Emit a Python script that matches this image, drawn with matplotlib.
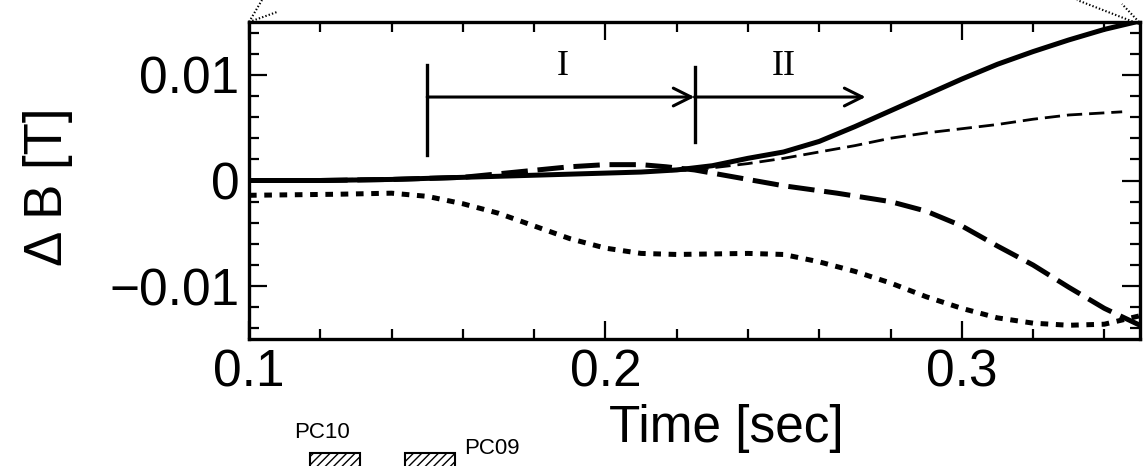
import matplotlib
matplotlib.use("Agg")
import matplotlib.pyplot as plt
from matplotlib.ticker import MultipleLocator
from matplotlib.patches import Rectangle
from matplotlib.lines import Line2D

plt.rcParams['font.family'] = ['Liberation Sans', 'DejaVu Sans']
plt.rcParams['lines.scale_dashes'] = False

# ---------------- data ----------------
t_solid = [0.10, 0.12, 0.14, 0.16, 0.18, 0.20, 0.21, 0.22, 0.23, 0.24, 0.25,
           0.26, 0.27, 0.28, 0.29, 0.30, 0.31, 0.32, 0.33, 0.34, 0.35]
b_solid = [0.0000, 0.0000, 0.0001, 0.0003, 0.0005, 0.0007, 0.0008, 0.0010,
           0.0014, 0.0021, 0.0027, 0.0037, 0.0051, 0.0066, 0.0081, 0.0096,
           0.0110, 0.0122, 0.0133, 0.0143, 0.0151]

t_long = [0.10, 0.12, 0.14, 0.16, 0.175, 0.19, 0.20, 0.21, 0.217, 0.225,
          0.235, 0.25, 0.265, 0.28, 0.29, 0.30, 0.31, 0.32, 0.33, 0.34, 0.35]
b_long = [0.0000, 0.0000, 0.0001, 0.0003, 0.0008, 0.0013, 0.0015, 0.0015,
          0.0013, 0.0010, 0.0004, -0.0005, -0.0012, -0.0020, -0.0029,
          -0.0043, -0.0062, -0.0080, -0.0101, -0.0121, -0.0137]

t_short = [0.10, 0.125, 0.14, 0.15, 0.16, 0.17, 0.18, 0.19, 0.20, 0.21, 0.22,
           0.24, 0.25, 0.26, 0.27, 0.28, 0.29, 0.30, 0.31, 0.32, 0.33, 0.34,
           0.35]
b_short = [-0.0014, -0.0013, -0.0012, -0.0015, -0.0022, -0.0031, -0.0043,
           -0.0055, -0.0064, -0.0069, -0.0070, -0.0069, -0.0070, -0.0077,
           -0.0086, -0.0097, -0.0110, -0.0121, -0.0130, -0.0135, -0.0137,
           -0.0136, -0.0128]

t_thin = [0.10, 0.15, 0.20, 0.225, 0.24, 0.25, 0.26, 0.27, 0.28, 0.29, 0.30,
          0.31, 0.32, 0.33, 0.345]
b_thin = [0.0000, 0.0002, 0.0007, 0.0010, 0.0016, 0.0021, 0.0027, 0.0033,
          0.0040, 0.0045, 0.0049, 0.0053, 0.0058, 0.0062, 0.0065]

phase_bounds = [0.15, 0.225, 0.273]
phase_labels = ["I", "II"]
phase_label_x = [0.188, 0.250]

x_ticks = [0.1, 0.2, 0.3]
x_ticklabels = ["0.1", "0.2", "0.3"]
y_ticks = [-0.01, 0.0, 0.01]
y_ticklabels = ["\u22120.01", "0", "0.01"]

# ---------------- figure ----------------
W, H = 1143, 466
fig = plt.figure(figsize=(W / 100, H / 100), dpi=100)
ax = fig.add_axes([249 / W, 1 - 339 / H, 891 / W, 317 / H])

ax.plot(t_thin, b_thin, color='black', lw=2.0, dashes=(11, 5))
ax.plot(t_short, b_short, color='black', lw=3.6, dashes=(5.5, 5.5))
ax.plot(t_long, b_long, color='black', lw=3.6, dashes=(19, 7))
ax.plot(t_solid, b_solid, color='black', lw=3.6, solid_capstyle='butt')

ax.set_xlim(0.1, 0.35)
ax.set_ylim(-0.015, 0.015)

ax.set_xticks(x_ticks, labels=x_ticklabels)
ax.set_yticks(y_ticks, labels=y_ticklabels)
ax.xaxis.set_minor_locator(MultipleLocator(0.02))
ax.yaxis.set_minor_locator(MultipleLocator(0.002))
ax.tick_params(which='both', direction='in', top=True, right=True,
               labelsize=37, pad=7, width=1.6)
ax.tick_params(which='major', length=13)
ax.tick_params(which='minor', length=7)
for s in ax.spines.values():
    s.set_linewidth(2.4)

ax.set_xlabel("Time [sec]", fontsize=37)
ax.xaxis.set_label_coords(0.536, -0.205)
ax.set_ylabel("\u0394 B [T]", fontsize=38)
ax.yaxis.set_label_coords(-0.197, 0.48)

# phase annotation
bar_lo = [0.0024, 0.0036]
bar_hi = [0.0109, 0.0107]
arrow_y = 0.0079
label_y = 0.0108
for i in range(2):
    ax.plot([phase_bounds[i], phase_bounds[i]], [bar_lo[i], bar_hi[i]],
            color='black', lw=2.4)
    ax.annotate("", xy=(phase_bounds[i + 1], arrow_y),
                xytext=(phase_bounds[i], arrow_y),
                arrowprops=dict(arrowstyle='->', lw=2.2, color='black',
                                shrinkA=0, shrinkB=0, mutation_scale=32))
    ax.text(phase_label_x[i], label_y, phase_labels[i], fontsize=26,
            family=['Liberation Serif', 'DejaVu Serif'],
            ha='center', va='center')

# scan artefacts: dotted corner strokes
def fpx(x, y):
    return x / W, 1 - y / H

for (x0, y0, x1, y1) in [(249, 22, 262, 0), (249, 22, 277, 12),
                         (1139, 24, 1077, 0), (1139, 22, 1122, 4)]:
    a = fpx(x0, y0)
    b = fpx(x1, y1)
    fig.add_artist(Line2D([a[0], b[0]], [a[1], b[1]], transform=fig.transFigure,
                          color='black', lw=1.5, linestyle=(0, (1, 1.5))))

# stray legend fragments from the scan
fig.text(*fpx(294, 438), "PC10", fontsize=16, ha='left', va='baseline')
fig.text(*fpx(464, 454), "PC09", fontsize=16, ha='left', va='baseline')
for xl in [310, 405]:
    x, y = fpx(xl, 468)
    fig.add_artist(Rectangle((x, y), 50 / W, 15 / H, transform=fig.transFigure,
                             facecolor='white', edgecolor='black', lw=1.5,
                             hatch='////'))

fig.savefig("out.png", dpi=100)
